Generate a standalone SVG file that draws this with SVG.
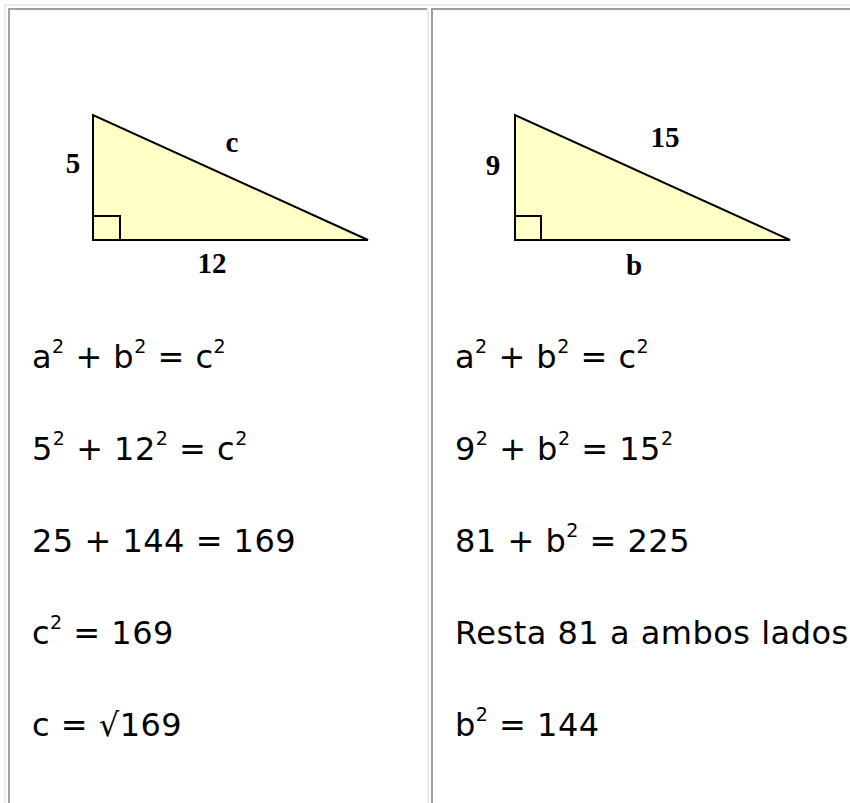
<svg xmlns="http://www.w3.org/2000/svg" width="850" height="803" viewBox="0 0 850 803">
<style>
.eq{font-family:"DejaVu Sans","Verdana",sans-serif;font-size:32px;fill:#000;letter-spacing:0.5px}
.sup{font-size:19px}
.lbl{font-family:"Liberation Serif","Times New Roman",serif;font-weight:bold;font-size:29px;fill:#000;text-anchor:middle}
.tri{fill:#FFFFC6;stroke:#000;stroke-width:2;stroke-linejoin:miter}
.sq{fill:none;stroke:#000;stroke-width:2}
.dark{fill:#a0a0a0}
.light{fill:#ededed}
</style>
<rect width="850" height="803" fill="#fff"/>
<g id="table-borders">
<rect class="light" x="4" y="4" width="846" height="2"/>
<rect class="light" x="4" y="4" width="2" height="799"/>
<rect class="dark" x="8" y="8" width="421" height="2"/>
<rect class="dark" x="8" y="8" width="2" height="795"/>
<rect class="light" x="427" y="8" width="2" height="795"/>
<rect class="dark" x="431" y="8" width="419" height="2"/>
<rect class="dark" x="431" y="8" width="2" height="795"/>
</g>
<g id="triangle-left">
<polygon class="tri" points="93,115 93,240 368,240"/>
<polyline class="sq" points="93,216 120,216 120,240"/>
<text class="lbl" x="73" y="173">5</text>
<text class="lbl" x="232" y="152">c</text>
<text class="lbl" x="212" y="273">12</text>
</g>
<g id="triangle-right">
<polygon class="tri" points="515,115 515,240 790,240"/>
<polyline class="sq" points="515,216 541,216 541,240"/>
<text class="lbl" x="493" y="175">9</text>
<text class="lbl" x="665" y="147">15</text>
<text class="lbl" x="634" y="275">b</text>
</g>
<g id="left-equations">
<text class="eq" x="32" y="368">a<tspan class="sup" dy="-15">2</tspan><tspan dy="15"> + b</tspan><tspan class="sup" dy="-15">2</tspan><tspan dy="15"> = c</tspan><tspan class="sup" dy="-15">2</tspan></text>
<text class="eq" x="32" y="460">5<tspan class="sup" dy="-15">2</tspan><tspan dy="15"> + 12</tspan><tspan class="sup" dy="-15">2</tspan><tspan dy="15"> = c</tspan><tspan class="sup" dy="-15">2</tspan></text>
<text class="eq" x="32" y="552">25 + 144 = 169</text>
<text class="eq" x="32" y="644">c<tspan class="sup" dy="-15">2</tspan><tspan dy="15"> = 169</tspan></text>
<text class="eq" x="32" y="736">c = √169</text>
</g>
<g id="right-equations">
<text class="eq" x="455" y="368">a<tspan class="sup" dy="-15">2</tspan><tspan dy="15"> + b</tspan><tspan class="sup" dy="-15">2</tspan><tspan dy="15"> = c</tspan><tspan class="sup" dy="-15">2</tspan></text>
<text class="eq" x="455" y="460">9<tspan class="sup" dy="-15">2</tspan><tspan dy="15"> + b</tspan><tspan class="sup" dy="-15">2</tspan><tspan dy="15"> = 15</tspan><tspan class="sup" dy="-15">2</tspan></text>
<text class="eq" x="455" y="552">81 + b<tspan class="sup" dy="-15">2</tspan><tspan dy="15"> = 225</tspan></text>
<text class="eq" x="455" y="644">Resta 81 a ambos lados</text>
<text class="eq" x="455" y="736">b<tspan class="sup" dy="-15">2</tspan><tspan dy="15"> = 144</tspan></text>
</g>
</svg>
